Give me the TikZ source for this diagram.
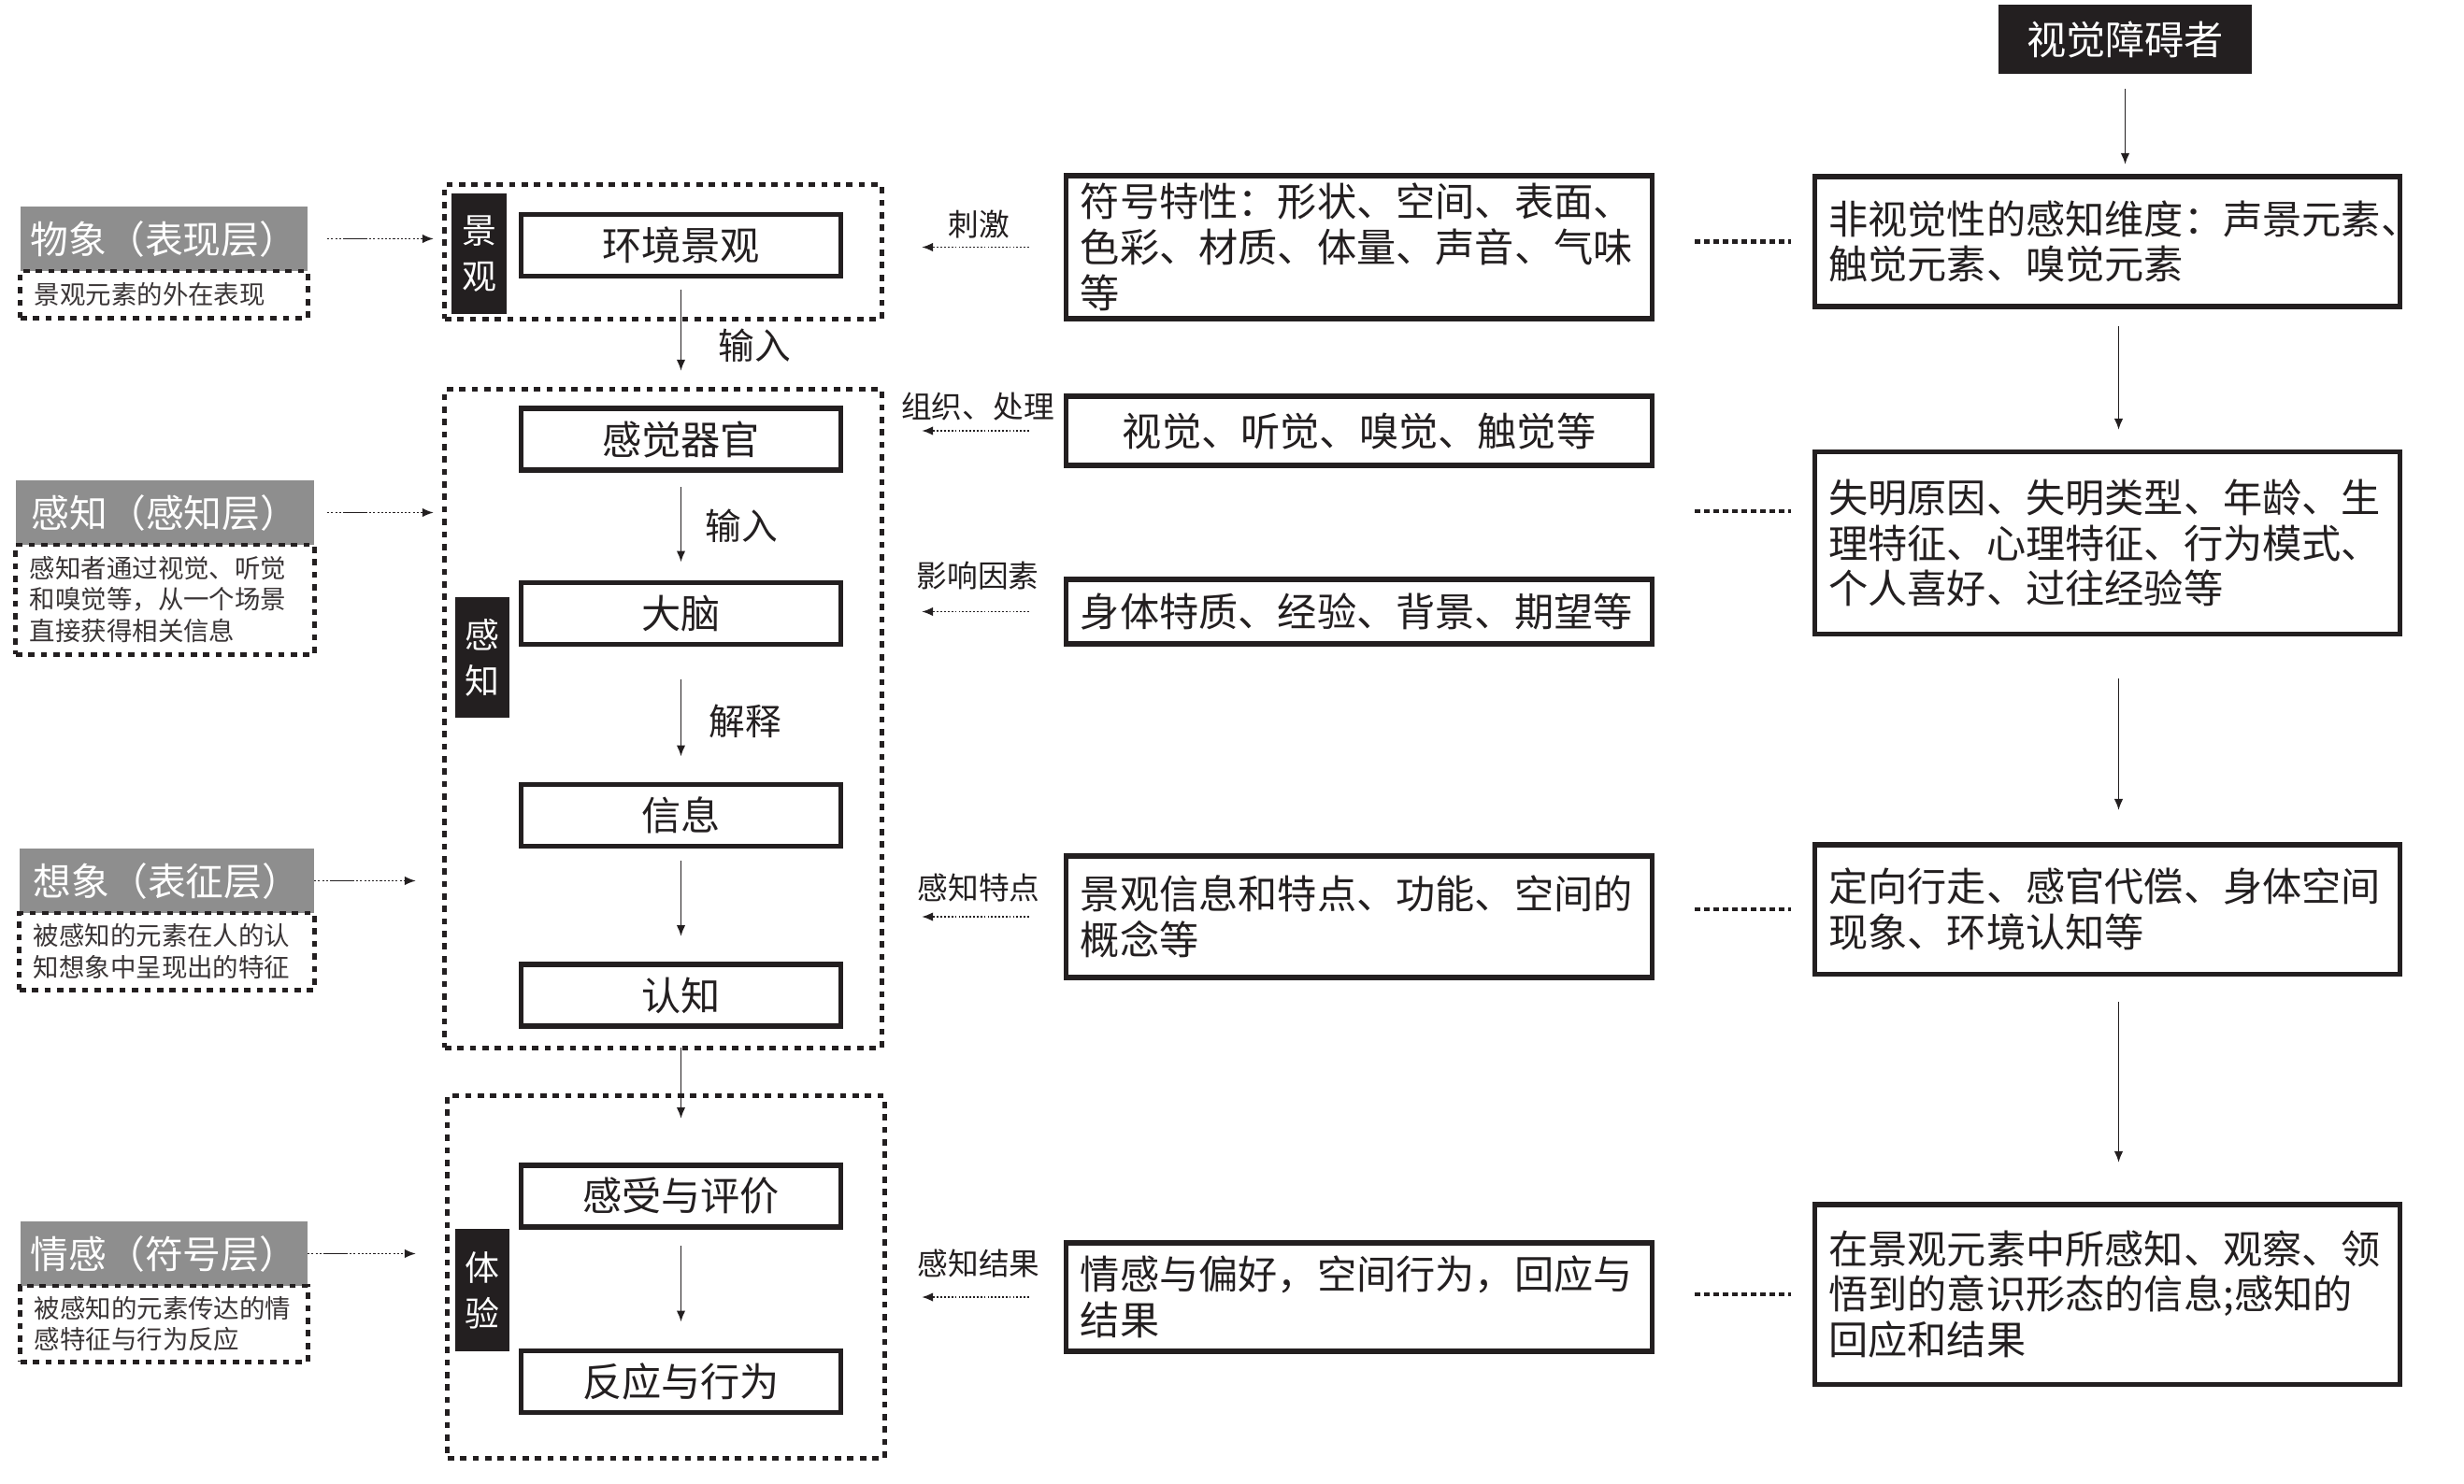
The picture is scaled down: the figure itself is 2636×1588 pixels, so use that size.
\documentclass[tikz,border=0pt]{standalone}
\usepackage{fontspec}
\setmainfont{Noto Sans CJK SC}
\usepackage{tikz}
\usetikzlibrary{positioning,arrows.meta,calc}
\definecolor{ink}    {HTML}{231F20}
\definecolor{hdrgray}{HTML}{8E8E8E}
\definecolor{softink}{HTML}{3A3536}
\tikzset{
  >={Latex[length=3.4pt,width=2.7pt]},
  every node/.style={inner sep=0pt, outer sep=0pt},
  % --- nodes
  box/.style   = {draw=ink, line width=1.45pt, minimum width=3.41cm, minimum height=0.66cm,
                  font=\fontsize{12}{13.9}\selectfont, text=ink},
  wbox/.style  = {draw=ink, line width=1.45pt, text width=5.96cm, inner xsep=0.15cm, align=left,
                  font=\fontsize{12}{13.9}\selectfont, text=ink},
  grp/.style   = {draw=ink, line width=1.4pt, dash pattern=on 1.9pt off 1.9pt, minimum width=4.67cm},
  tag/.style   = {fill=ink, text=white, align=center, minimum width=0.58cm,
                  font=\fontsize{10.5}{14}\selectfont},
  hdr/.style   = {fill=hdrgray, text=white, minimum height=0.69cm, font=\fontsize{11.6}{13}\selectfont},
  desc/.style  = {draw=ink, line width=1.4pt, dash pattern=on 1.9pt off 1.9pt, inner xsep=0.15cm,
                  align=left, font=\fontsize{7.8}{9.4}\selectfont, text=softink},
  lbl/.style   = {font=\fontsize{9.3}{11}\selectfont, text=ink},
  elbl/.style  = {font=\fontsize{11}{13}\selectfont, text=ink},
  % --- edges
  e/.style     = {->, line width=0.5pt, draw=ink},
  ed/.style    = {->, line width=0.5pt, draw=ink, dash pattern=on 0.5pt off 0.6pt},
  eg/.style    = {->, line width=0.45pt, draw=ink,
                  dash pattern=on .6pt off .6pt on .6pt off .6pt on .6pt off .6pt on .6pt off .6pt
                  on 7.4pt off .6pt on .6pt off .6pt on .6pt off .6pt on .6pt off .6pt on .6pt off .6pt
                  on .6pt off .6pt on .6pt off .6pt on .6pt off .6pt on .6pt off .6pt on .6pt off .6pt
                  on .6pt off .6pt on .6pt off .6pt on .6pt off .6pt on .6pt off .6pt on .6pt off .6pt},
  dotlink/.style = {draw=ink, line width=1.25pt, dash pattern=on 1.7pt off 1.15pt},
}
\begin{document}
\begin{tikzpicture}[x=0.01cm,y=-0.01cm]
  \path[use as bounding box, fill=white] (0,0) rectangle (2636,1588);

  % left column: layers
  \node[hdr, minimum width=3.07cm] (h1) at (175.5,255.5) {物象（表现层）};
  \node[desc, text width=2.77cm, minimum height=0.50cm, below=0pt of h1] (d1) {景观元素的外在表现};
  \node[hdr, minimum width=3.19cm] (h2) at (176.5,548.5) {感知（感知层）};
  \node[desc, text width=2.89cm, minimum height=1.17cm, below=0pt of h2] (d2)
    {感知者通过视觉、听觉\\和嗅觉等，从一个场景\\直接获得相关信息};
  \node[hdr, minimum width=3.15cm] (h3) at (178.5,942.5) {想象（表征层）};
  \node[desc, text width=2.85cm, minimum height=0.82cm, below=0pt of h3] (d3)
    {被感知的元素在人的认\\知想象中呈现出的特征};
  \node[hdr, minimum width=3.07cm] (h4) at (175.5,1341.5) {情感（符号层）};
  \node[desc, text width=2.77cm, minimum height=0.81cm, below=0pt of h4] (d4)
    {被感知的元素传达的情\\感特征与行为反应};

  % middle column: dashed groups
  \node[grp, minimum height=1.43cm] (g1) at (709.5,269.5) {};
  \node[grp, minimum height=7.04cm] (g2) at (709.5,769) {};
  \node[grp, minimum height=3.87cm] (g3) at (712.5,1366.5) {};
  \node[tag, minimum height=1.29cm] (t1) at (512.5,271.5) {景\\观};
  \node[tag, minimum height=1.29cm] (t2) at (516,703.5) {感\\知};
  \node[tag, minimum height=1.31cm] (t3) at (516,1380.5) {体\\验};

  \node[box] (env)   at (728.5,262.5)  {环境景观};
  \node[box] (organ) at (728.5,470)    {感觉器官};
  \node[box] (brain) at (728.5,656.5)  {大脑};
  \node[box] (info)  at (728.5,872.5)  {信息};
  \node[box] (cog)   at (728.5,1065)   {认知};
  \node[box] (feel)  at (728.5,1280)   {感受与评价};
  \node[box] (react) at (728.5,1478.5) {反应与行为};

  \draw[e, shorten <=0.14cm, shorten >=0.2cm] (env.south) -- (env.south |- g2.north);
  \draw[e, shorten <=0.18cm, shorten >=0.22cm] (organ) -- (brain);
  \draw[e, shorten <=0.37cm, shorten >=0.30cm] (brain) -- (info);
  \draw[e, shorten <=0.15cm, shorten >=0.30cm] (info) -- (cog);
  \draw[e, shorten >=0.5cm] (cog.south |- g2.south) -- (feel.north);
  \draw[e, shorten <=0.20cm, shorten >=0.31cm] (feel) -- (react);
  \node[elbl] (in1) at (807,370) {输入};
  \node[elbl] (in2) at (793,563) {输入};
  \node[elbl] (expl) at (797,772) {解释};

  \draw[eg, shorten <=0.21cm, shorten >=0.12cm] (h1.east) -- (h1.east -| g1.west);
  \draw[eg, shorten <=0.14cm, shorten >=0.12cm] (h2.east) -- (h2.east -| g2.west);
  \draw[eg, shorten >=0.31cm] (h3.east) -- (h3.east -| g2.west);
  \draw[eg, shorten >=0.34cm] (h4.east) -- (h4.east -| g3.west);

  % third column: contents
  \node[wbox, minimum height=1.53cm] (sym) at (1454,264.5)
    {符号特性：形状、空间、表面、\\色彩、材质、体量、声音、气味\\等};
  \node[wbox, minimum height=0.74cm, align=center] (sense)
    at (1454,461) {视觉、听觉、嗅觉、触觉等};
  \node[wbox, minimum height=0.69cm] (body) at (1454,654.5) {身体特质、经验、背景、期望等};
  \node[wbox, minimum height=1.30cm] (feat) at (1454,981)
    {景观信息和特点、功能、空间的\\概念等};
  \node[wbox, minimum height=1.16cm] (emo) at (1454,1388)
    {情感与偏好，空间行为，回应与\\结果};

  \draw[ed, shorten <=0.40cm, shorten >=0.43cm] (sym.west) -- (sym.west -| g1.east);
  \draw[ed, shorten <=0.40cm, shorten >=0.43cm] (sense.west) -- (sense.west -| g2.east);
  \draw[ed, shorten <=0.40cm, shorten >=0.43cm] (body.west) -- (body.west -| g2.east);
  \draw[ed, shorten <=0.40cm, shorten >=0.43cm] (feat.west) -- (feat.west -| g2.east);
  \draw[ed, shorten <=0.40cm, shorten >=0.40cm] (emo.west) -- (emo.west -| g3.east);
  \node[lbl] (stim) at (1047,240)  {刺激};
  \node[lbl] (proc) at (1046,435)  {组织、处理};
  \node[lbl] (fact) at (1046,616)  {影响因素};
  \node[lbl] (trait) at (1047,950) {感知特点};
  \node[lbl] (res)  at (1047,1352) {感知结果};

  % right column: visually impaired
  \node[fill=ink, text=white, minimum width=2.71cm, minimum height=0.74cm,
        font=\fontsize{12}{13.9}\selectfont] (vis) at (2273.5,42) {视觉障碍者};
  \node[wbox, minimum height=1.39cm] (r1) at (2254.5,258.5)
    {非视觉性的感知维度：声景元素、\\触觉元素、嗅觉元素};
  \node[wbox, minimum height=1.94cm] (r2) at (2254.5,581)
    {失明原因、失明类型、年龄、生\\理特征、心理特征、行为模式、\\个人喜好、过往经验等};
  \node[wbox, minimum height=1.38cm] (r3) at (2254.5,973)
    {定向行走、感官代偿、身体空间\\现象、环境认知等};
  \node[wbox, minimum height=1.92cm] (r4) at (2254.5,1385)
    {在景观元素中所感知、观察、领\\悟到的意识形态的信息;感知的\\回应和结果};

  \draw[e, shorten <=0.16cm, shorten >=0.13cm] (vis.south) -- (vis.south |- r1.north);
  \draw[e, shorten <=0.21cm, shorten >=0.24cm] ([xshift=0.12cm]r1.south) -- ([xshift=0.12cm]r2.north);
  \draw[e, shorten <=0.48cm, shorten >=0.37cm] ([xshift=0.12cm]r2.south) -- ([xshift=0.12cm]r3.north);
  \draw[e, shorten <=0.30cm, shorten >=0.45cm] ([xshift=0.12cm]r3.south) -- ([xshift=0.12cm]r4.north);

  % dotted links
  \coordinate (r2w) at ([yshift=0.34cm]r2.west);
  \draw[dotlink, shorten <=0.46cm, shorten >=0.25cm] (sym.east |- r1.west) -- (r1.west);
  \draw[dotlink, shorten <=0.46cm, shorten >=0.25cm] (sense.east |- r2w) -- (r2w);
  \draw[dotlink, shorten <=0.46cm, shorten >=0.25cm] (feat.east |- r3.west) -- (r3.west);
  \draw[dotlink, shorten <=0.46cm, shorten >=0.25cm] (emo.east |- r4.west) -- (r4.west);
\end{tikzpicture}
\end{document}
